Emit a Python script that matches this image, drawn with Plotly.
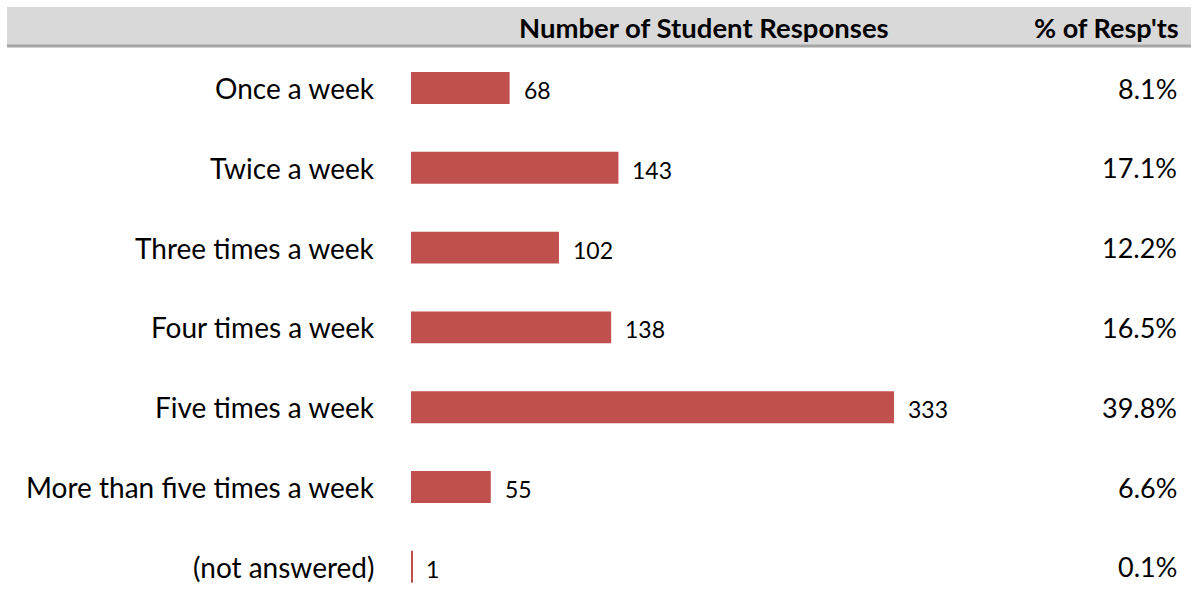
import plotly.graph_objects as go

# Survey results: how often students respond
categories = [
    "Once a week",
    "Twice a week",
    "Three times a week",
    "Four times a week",
    "Five times a week",
    "More than five times a week",
    "(not answered)",
]
responses = [68, 143, 102, 138, 333, 55, 1]
percents = ["8.1%", "17.1%", "12.2%", "16.5%", "39.8%", "6.6%", "0.1%"]

header_count = "Number of Student Responses"
header_pct = "% of Resp'ts"

W, H = 1191, 600
FONT = "Lato"
BAR_COLOR = "#C0504D"

# pixel layout of the bar area
x0_px, x1_px = 411, 1000
px_per_unit = (894 - 411) / 333
x_max = (x1_px - x0_px) / px_per_unit
row_top_px, row_step_px = 88, 79.8

ypos = list(range(len(categories)))
y_top = -row_top_px / row_step_px
y_bottom = (H - row_top_px) / row_step_px

fig = go.Figure()
fig.add_trace(go.Bar(
    x=responses,
    y=ypos,
    orientation="h",
    width=0.40,
    marker=dict(color=BAR_COLOR, line=dict(width=0)),
    hoverinfo="skip",
))

annotations = []
for i, (cat, val, pct) in enumerate(zip(categories, responses, percents)):
    # category label to the left of the bars
    annotations.append(dict(
        x=377 / W, xref="paper", y=i, yref="y",
        text=cat, showarrow=False, xanchor="right", yanchor="middle",
        font=dict(family=FONT, size=28, color="#000000"),
    ))
    # count label after the end of each bar
    annotations.append(dict(
        x=val, xref="x", y=i, yref="y", xshift=12, yshift=-2,
        text=str(val), showarrow=False, xanchor="left", yanchor="middle",
        font=dict(family=FONT, size=23, color="#000000"),
    ))
    # percentage column on the right
    annotations.append(dict(
        x=1179 / W, xref="paper", y=i, yref="y",
        text=pct, showarrow=False, xanchor="right", yanchor="middle",
        font=dict(family=FONT, size=27, color="#000000"),
    ))

# column headers
annotations.append(dict(
    x=891 / W, xref="paper", y=1 - 27 / H, yref="paper",
    text=f"<b>{header_count}</b>", showarrow=False,
    xanchor="right", yanchor="middle",
    font=dict(family=FONT, size=27.5, color="#000000"),
))
annotations.append(dict(
    x=1181 / W, xref="paper", y=1 - 27 / H, yref="paper",
    text=f"<b>{header_pct}</b>", showarrow=False,
    xanchor="right", yanchor="middle",
    font=dict(family=FONT, size=27, color="#000000"),
))

shapes = [
    # header band
    dict(type="rect", xref="paper", yref="paper",
         x0=7 / W, x1=1, y0=1 - 45 / H, y1=1 - 7 / H,
         fillcolor="#D9D9D9", line=dict(width=0), layer="below"),
    # underline of the header band
    dict(type="line", xref="paper", yref="paper",
         x0=7 / W, x1=1, y0=1 - 46 / H, y1=1 - 46 / H,
         line=dict(color="#A5A5A5", width=3)),
]

fig.update_layout(
    width=W, height=H,
    margin=dict(l=0, r=0, t=0, b=0),
    paper_bgcolor="#FFFFFF",
    plot_bgcolor="rgba(0,0,0,0)",
    showlegend=False,
    annotations=annotations,
    shapes=shapes,
    xaxis=dict(domain=[x0_px / W, x1_px / W], range=[0, x_max],
               visible=False, fixedrange=True),
    yaxis=dict(range=[y_bottom, y_top], visible=False, fixedrange=True),
)

fig.write_html("out.html", config={"displayModeBar": False})
